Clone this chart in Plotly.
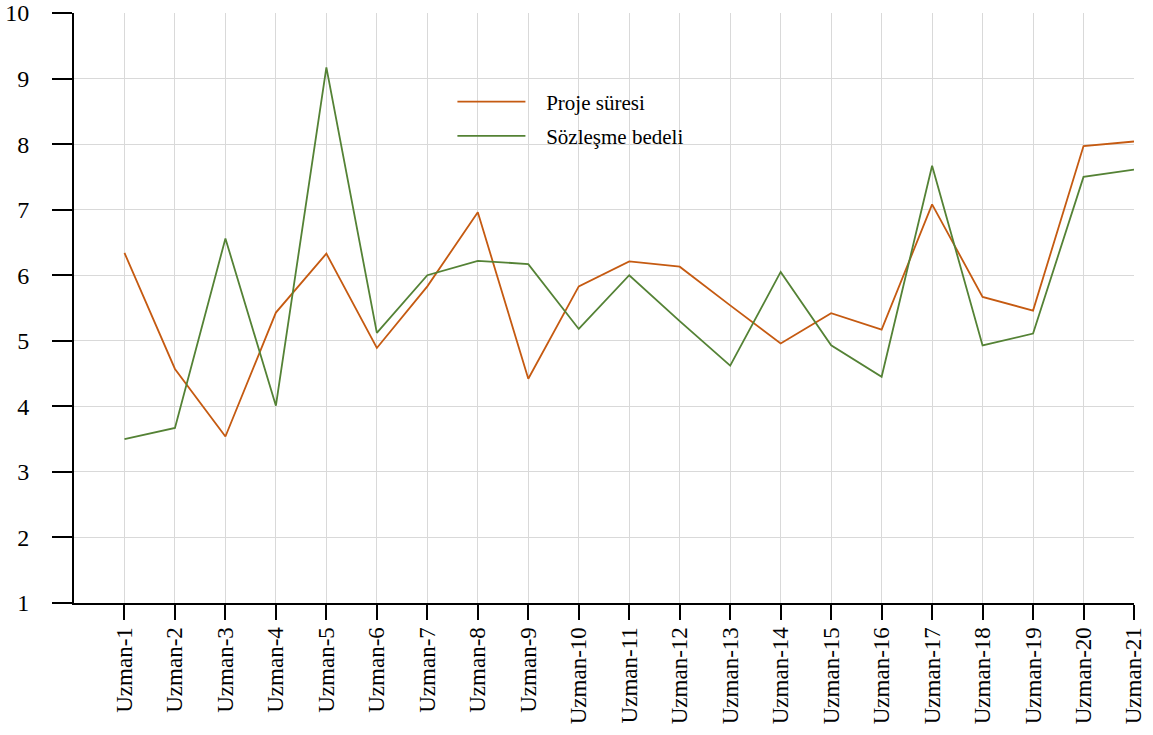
import plotly.graph_objects as go

categories = [f"Uzman-{i}" for i in range(1, 22)]
proje_suresi = [6.34, 4.57, 3.54, 5.43, 6.33, 4.89, 5.83, 6.96, 4.42, 5.83,
                6.21, 6.13, 5.54, 4.96, 5.42, 5.17, 7.08, 5.67, 5.46, 7.97, 8.04]
sozlesme_bedeli = [3.50, 3.67, 6.56, 4.01, 9.17, 5.12, 6.00, 6.22, 6.17, 5.18,
                   6.00, 5.30, 4.62, 6.05, 4.93, 4.45, 7.67, 4.93, 5.11, 7.50, 7.61]
series_names = ["Proje süresi", "Sözleşme bedeli"]
y_ticks = list(range(1, 11))

FONT = "Liberation Serif"
PAD = "\u00a0\u00a0\u00a0"

fig = go.Figure()
fig.add_trace(go.Scatter(x=categories, y=proje_suresi, mode="lines", name=PAD + series_names[0],
                         legendgroup="a", line=dict(color="#C55A11", width=1.8)))
fig.add_trace(go.Scatter(x=categories, y=sozlesme_bedeli, mode="lines", name=PAD + series_names[1],
                         legendgroup="b", line=dict(color="#548235", width=1.8)))

# white backing box behind the legend (hides gridlines there)
fig.add_shape(type="rect", xref="paper", yref="paper", x0=0.3473, x1=0.5898, y0=0.748, y1=0.8988,
              fillcolor="white", line=dict(width=0), layer="between")

fig.update_layout(
    width=1153, height=735,
    margin=dict(l=74, r=19, t=13, b=132, autoexpand=False),
    paper_bgcolor="white", plot_bgcolor="white",
    font=dict(family=FONT, color="black", size=22),
    showlegend=True,
    legend=dict(x=0.357, y=0.884, xanchor="left", yanchor="top",
                bgcolor="rgba(0,0,0,0)", font=dict(size=21, family=FONT, color="black"),
                itemwidth=68, tracegroupgap=4, traceorder="grouped"),
    xaxis=dict(type="category", categoryorder="array", categoryarray=categories,
               range=[-1, 20], showgrid=True, gridcolor="#d9d9d9", gridwidth=1,
               showline=True, linecolor="black", linewidth=2, automargin=False,
               ticks="outside", ticklen=15, tickwidth=2, tickcolor="black",
               tickangle=-90, tickfont=dict(size=23, family=FONT, color="black"),
               ticklabelstandoff=-2, zeroline=False),
    yaxis=dict(range=[1, 10], tickvals=y_ticks, showgrid=True, gridcolor="#d9d9d9", gridwidth=1,
               showline=True, linecolor="black", linewidth=2, automargin=False,
               ticks="outside", ticklen=20, tickwidth=2, tickcolor="black",
               tickfont=dict(size=24, family=FONT, color="black"), ticklabelstandoff=18,
               zeroline=False),
)

fig.write_html("out.html", config={"displayModeBar": False},
               post_script="document.body.style.margin='0';document.body.style.padding='0';")
